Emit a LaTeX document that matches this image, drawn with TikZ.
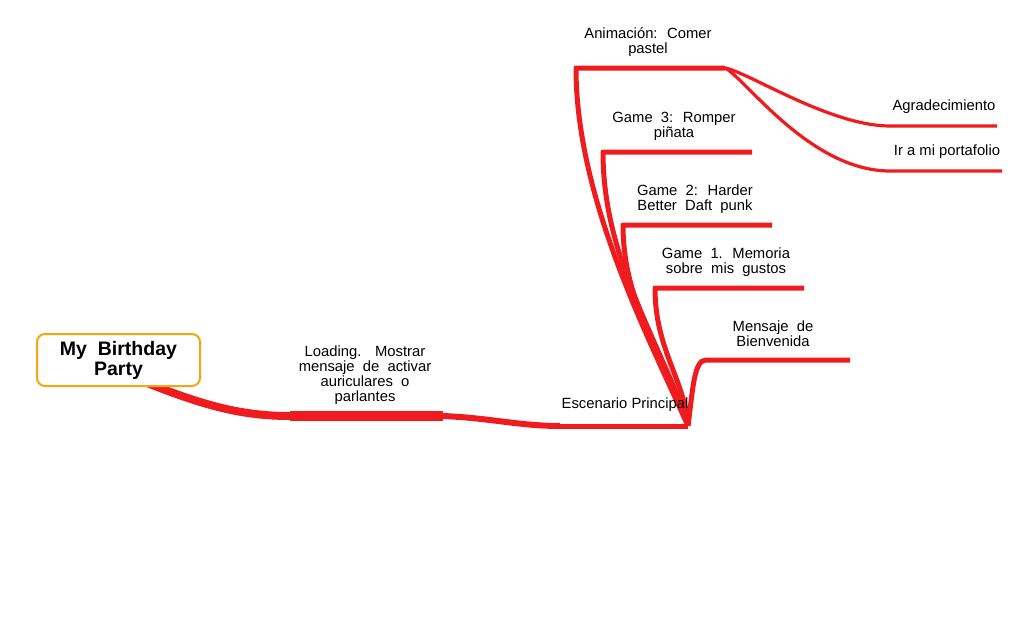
\documentclass[tikz,border=0pt]{standalone}
\usepackage{fontspec}
\setmainfont{Liberation Sans}
\definecolor{brred}{RGB}{238,28,30}
\definecolor{rootor}{RGB}{245,166,20}
\begin{document}
\begin{tikzpicture}[x=1pt,y=-1pt,
  lbl/.style={font=\fontsize{14.8}{15}\selectfont, align=center, inner sep=0pt, text=black},
  brmain/.style={draw=brred, line width=10pt},
  brmid/.style={draw=brred, line width=5pt, line join=round},
  brthin/.style={draw=brred, line width=3.2pt},
  rootbox/.style={draw=rootor, fill=white, line width=2pt, rounded corners=8pt, minimum width=163pt, minimum height=52pt, align=center, inner sep=0pt, font=\bfseries\fontsize{19.5}{20}\selectfont}]
\useasboundingbox[fill=white] (0,0) rectangle (1026,637);

% coordinates of branch lines
\coordinate (rootS) at (130,376);
\coordinate (loadA) at (290,416);
\coordinate (loadB) at (443,416);
\coordinate (escA) at (560,426);
\coordinate (esc) at (688,426);
\coordinate (welA) at (706,360);
\coordinate (welB) at (850,360);
\coordinate (g1A) at (655,288);
\coordinate (g1B) at (804,288);
\coordinate (g2A) at (623,225);
\coordinate (g2B) at (772,225);
\coordinate (g3A) at (603,152);
\coordinate (g3B) at (752,152);
\coordinate (anA) at (576,68);
\coordinate (anB) at (725,68);
\coordinate (agA) at (890,126);
\coordinate (agB) at (997,126);
\coordinate (irA) at (890,171);
\coordinate (irB) at (1002,171);

% root -> Loading (drawn under the root box)
\draw[draw=brred, line width=8pt] (rootS) .. controls (200,405) and (240,416) .. (loadA);
\draw[brmain] (loadA) -- (loadB);
% root
\node[rootbox] (root) at (118.5,360) {\raisebox{-2pt}{My~ Birthday}\\\raisebox{-2pt}{Party}};
% Loading -> Escenario
\draw[draw=brred, line width=6pt] (loadB) .. controls (490,418) and (520,426) .. (escA);
\draw[brmid] (escA) -- (esc);
% Escenario -> children
\draw[brmid] (esc) .. controls (693,388) and (694,360) .. (welA) -- (welB);
\draw[brmid] (esc) .. controls (685,380) and (655,350) .. (g1A) -- (g1B);
\draw[brmid] (esc) .. controls (670,360) and (623,310) .. (g2A) -- (g2B);
\draw[brmid] (esc) .. controls (660,340) and (603,260) .. (g3A) -- (g3B);
\draw[brmid] (esc) .. controls (650,340) and (576,200) .. (anA) -- (anB);
% Animacion -> children
\draw[brthin] (anB) .. controls (748,72) and (830,126) .. (agA) -- (agB);
\draw[brthin] (anB) .. controls (745,78) and (810,171) .. (irA) -- (irB);

% labels
\node[lbl] (tload) at (365,375) {Loading.~ ~Mostrar\\mensaje~ de~ activar\\auriculares~ o\\parlantes};
\node[lbl] (tesc) at (625,405) {Escenario Principal};
\node[lbl] (twel) at (773,334) {Mensaje~ de\\Bienvenida};
\node[lbl] (tg1) at (726,262) {Game~ 1.~ Memoria\\sobre~ mis~ gustos};
\node[lbl] (tg2) at (695,199) {Game~ 2:~ Harder\\Better~ Daft~ punk};
\node[lbl] (tg3) at (674,126) {Game~ 3:~ Romper\\piñata};
\node[lbl] (tan) at (648,42) {Animación:~ Comer\\pastel};
\node[lbl] (tag) at (944,107) {Agradecimiento};
\node[lbl] (tir) at (947,152) {Ir a mi portafolio};
\end{tikzpicture}
\end{document}
